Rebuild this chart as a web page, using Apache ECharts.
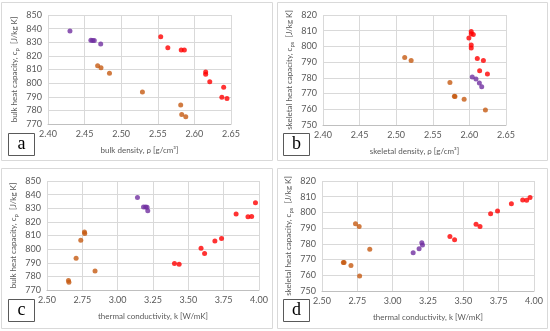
<!DOCTYPE html>
<html><head><meta charset="utf-8">
<script src="https://cdn.jsdelivr.net/npm/echarts@6/dist/echarts.min.js"></script>
<style>html,body{margin:0;padding:0;background:#fff}#c{width:550px;height:331px}</style>
</head><body><div id="c"></div>
<script>
// Panel a: bulk density vs bulk heat capacity
const aPurple = [[2.430,838.3],[2.4586,831.4],[2.4609,831.2],[2.4632,831.2],[2.472,828.7]];
const aOrange = [[2.4678,812.8],[2.4724,811.3],[2.484,807.2],[2.529,793.5],[2.5813,784.0],[2.5827,776.9],[2.5882,775.4]];
const aRed = [[2.554,834.1],[2.5637,826.0],[2.582,824.3],[2.5863,824.3],[2.6154,808.2],[2.6154,806.6],[2.621,801.1],[2.640,796.9],[2.6375,789.6],[2.6445,788.8]];
// Panel b: skeletal density vs skeletal heat capacity
const bPurple = [[2.6039,780.6],[2.609,779.2],[2.6136,776.8],[2.6168,774.4]];
const bOrange = [[2.5116,793.0],[2.5204,791.0],[2.5734,777.0],[2.5795,768.3],[2.5803,768.1],[2.5928,766.4],[2.6219,759.5]];
const bRed = [[2.6025,809.5],[2.6025,808.0],[2.6053,807.6],[2.5993,805.4],[2.6025,800.9],[2.6025,799.0],[2.6108,792.3],[2.6191,791.0],[2.614,784.6],[2.6246,782.5]];
// Panel c: thermal conductivity vs bulk heat capacity
const cPurple = [[3.14,837.8],[3.183,831.0],[3.198,831.0],[3.208,830.8],[3.213,828.2]];
const cOrange = [[2.765,812.6],[2.767,811.4],[2.739,806.5],[2.706,793.3],[2.84,784.0],[2.652,777.0],[2.655,775.6]];
const cRed = [[3.975,834.0],[3.838,825.7],[3.922,823.8],[3.948,823.9],[3.735,807.8],[3.688,805.9],[3.59,800.7],[3.615,796.7],[3.402,789.4],[3.435,788.9]];
// Panel d: thermal conductivity vs skeletal heat capacity
const dPurple = [[3.145,774.4],[3.187,776.9],[3.206,780.7],[3.211,779.2]];
const dOrange = [[2.737,792.8],[2.763,791.1],[2.838,776.6],[2.651,768.2],[2.656,768.2],[2.705,766.3],[2.766,759.5]];
const dRed = [[3.405,784.7],[3.438,782.6],[3.59,792.4],[3.618,791.1],[3.693,799.1],[3.742,800.9],[3.84,805.5],[3.92,807.9],[3.948,807.8],[3.972,809.5]];

const panelLetters = ['a','b','c','d'];
const xTitles = ['bulk density, ρ [g/cm³]','skeletal density, ρ [g/cm³]','thermal conductivity, k [W/mK]','thermal conductivity, k [W/mK]'];
const yTitles = ['{t|bulk heat capacity, c}{s|p}{t|  [J/kg K]}','{t|skeletal heat capacity, c}{s|ps}{t|  [J/kg K]}','{t|bulk heat capacity, c}{s|p}{t|  [J/kg K]}','{t|skeletal heat capacity, c}{s|ps}{t|  [J/kg K]}'];
const xRanges = [[2.40,2.65,0.05],[2.40,2.65,0.05],[2.50,4.00,0.25],[2.50,4.00,0.25]];
const yRanges = [[770,850,10],[750,820,10],[770,850,10],[750,820,10]];

const PURPLE = '#7030A0', ORANGE = '#C55A11', RED = '#FF0000';
const TXT = '#595959', GRID = '#D9D9D9';
const FONT = 'Lato, "Open Sans", sans-serif';

const grids = [
  {left:48, top:15, width:183, height:109},
  {left:323, top:15, width:183, height:110},
  {left:47, top:181, width:212, height:109},
  {left:322, top:181, width:212, height:110}
];

const xAxes = xRanges.map((r,i)=>({
  type:'value', gridIndex:i, min:r[0], max:r[1], interval:r[2],
  name:xTitles[i], nameLocation:'middle', nameGap:22,
  nameTextStyle:{color:TXT, fontSize:8, fontFamily:FONT},
  axisLine:{show:true, lineStyle:{color:'#BFBFBF'}},
  axisTick:{show:false},
  axisLabel:{color:TXT, fontSize:9, fontFamily:FONT, margin:6, formatter:v=>v.toFixed(2)},
  splitLine:{show:true, lineStyle:{color:GRID}}
}));
const yAxes = yRanges.map((r,i)=>({
  type:'value', gridIndex:i, min:r[0], max:r[1], interval:r[2],
  name:yTitles[i], nameLocation:'middle', nameGap:28,
  nameTextStyle:{color:TXT, fontFamily:FONT, rich:{
    t:{fontSize:8, color:TXT, fontFamily:FONT, lineHeight:12},
    s:{fontSize:6, color:TXT, fontFamily:FONT, lineHeight:12, verticalAlign:'bottom'}
  }},
  axisLine:{show:false}, axisTick:{show:false},
  axisLabel:{color:TXT, fontSize:9, fontFamily:FONT, margin:6},
  splitLine:{show:true, lineStyle:{color:GRID}}
}));

const panelData = [[aPurple,aOrange,aRed],[bPurple,bOrange,bRed],[cPurple,cOrange,cRed],[dPurple,dOrange,dRed]];
const series = [];
panelData.forEach((sets,i)=>{
  [PURPLE,ORANGE,RED].forEach((col,j)=>{
    series.push({type:'scatter', xAxisIndex:i, yAxisIndex:i, data:sets[j], symbol:'circle', symbolSize:5,
      itemStyle:{color:col}, silent:true});
  });
});

const panelBoxes = [[1.5,2.5,271,158],[277.5,2.5,270,158],[1.5,168.5,271,160],[277.5,168.5,270,160]];
const letterBoxes = [[8.5,133.5],[283.5,133.5],[8.5,299.5],[283.5,299.5]];
const graphic = [];
panelBoxes.forEach(b=>graphic.push({type:'rect', shape:{x:b[0],y:b[1],width:b[2],height:b[3]}, style:{fill:'none', stroke:GRID, lineWidth:1}, z:-1}));
letterBoxes.forEach((b,i)=>{
  graphic.push({type:'rect', shape:{x:b[0],y:b[1],width:26,height:22}, style:{fill:'#fff', stroke:'#595959', lineWidth:1}});
  graphic.push({type:'text', x:b[0]+13, y:b[1]+11, style:{text:panelLetters[i], fill:'#000', font:'18px "Liberation Serif", serif', align:'center', verticalAlign:'middle'}});
});

const chart = echarts.init(document.getElementById('c'), null, {renderer:'canvas'});
chart.setOption({animation:false, grid:grids, xAxis:xAxes, yAxis:yAxes, series:series, graphic:graphic});
</script></body></html>
